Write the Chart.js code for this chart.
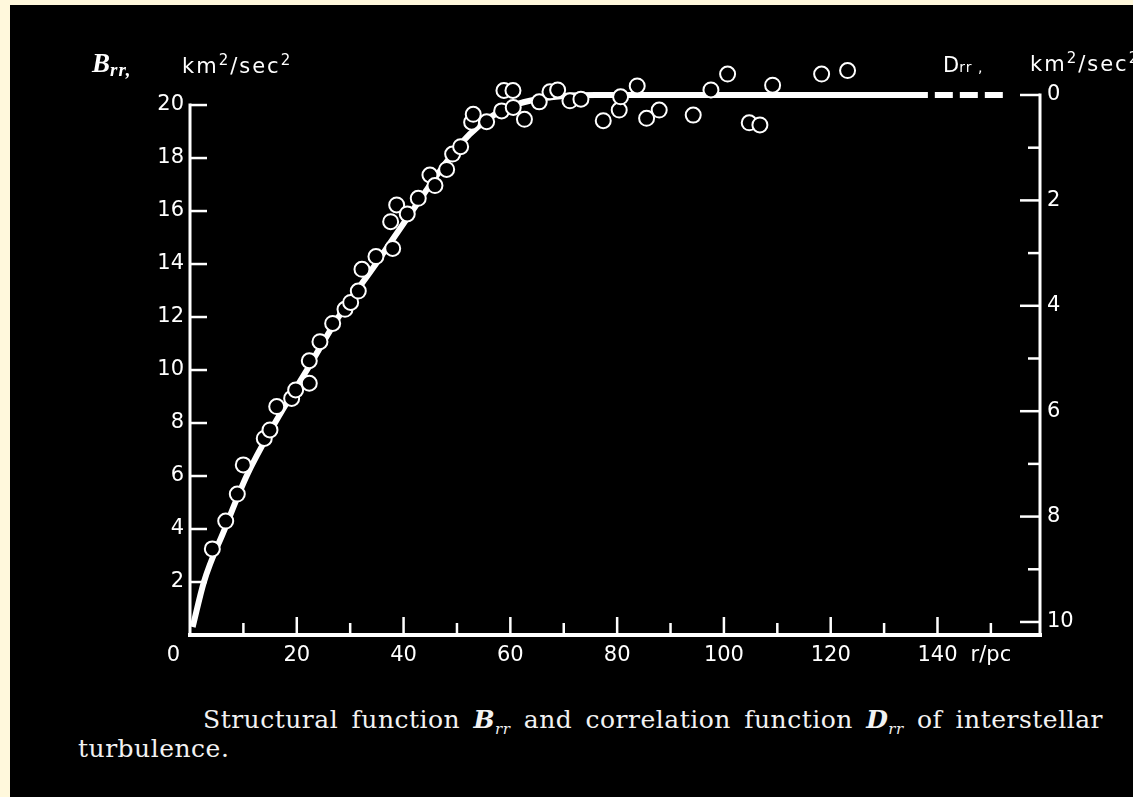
<!DOCTYPE html>
<html>
<head>
<meta charset="utf-8">
<script src="https://cdn.jsdelivr.net/npm/chart.js@4.4.1/dist/chart.umd.min.js"></script>
<style>
  html, body { margin: 0; padding: 0; width: 1133px; height: 797px; overflow: hidden; background: #fff8dc; }
  #panel { position: absolute; left: 10px; top: 5px; width: 1123px; height: 792px; background: #000; overflow: hidden; }
  #plot { position: absolute; left: 0; top: 0; }
  .lbl { position: absolute; color: #fff; white-space: nowrap; line-height: 1; }
  .sans { font-family: "DejaVu Sans", sans-serif; font-size: 21px; letter-spacing: 2px; }
  .sup { position: relative; top: -8px; font-size: 15px; }
  .serif { font-family: "DejaVu Serif", serif; font-size: 25px; letter-spacing: 0.5px; color: #f2f2f2; }
  #cap1 { width: 900px; text-align: justify; text-align-last: justify; }
</style>
</head>
<body>
<div id="panel">
  <canvas id="plot" width="1123" height="680"></canvas>

  <div class="lbl" style="left:82px; top:45px; font-family:'Liberation Serif',serif; font-size:27px; font-weight:bold; font-style:italic;">B<span style="position:relative; top:4px; font-size:19px; letter-spacing:1px;">rr,</span></div>
  <div class="lbl sans" style="left:172px; top:51px;">km<span class="sup">2</span>/sec<span class="sup">2</span></div>

  <div class="lbl sans" style="left:933px; top:50px; letter-spacing:0;">D<span style="font-size:14px; letter-spacing:1px;">rr ,</span></div>
  <div class="lbl sans" style="left:1020px; top:49px;">km<span class="sup">2</span>/sec<span class="sup">2</span></div>

  <div id="cap1" class="lbl serif" style="left:193px; top:702px;">Structural function <i><b>B</b><sub style="font-size:15px;">rr</sub></i> and correlation function <i><b>D</b><sub style="font-size:15px;">rr</sub></i> of interstellar</div>
  <div class="lbl serif" style="left:68px; top:731px;">turbulence.</div>
</div>

<script>
// Measured structural function B_rr (km^2/sec^2) against separation r (pc)
const rPc = [4.18, 6.69, 8.86, 9.98, 13.91, 14.98, 16.24, 19.04, 19.79, 22.34,
             22.34, 24.34, 26.72, 29.03, 30.09, 31.52, 32.21, 34.83, 37.96, 37.58,
             38.71, 40.69, 42.75, 44.94, 45.88, 48.07, 49.19, 50.69, 52.75, 53.05,
             55.56, 58.37, 58.8, 60.49, 60.54, 62.64, 65.41, 67.42, 68.86, 71.16,
             73.22, 77.4, 80.39, 80.65, 83.76, 85.52, 87.88, 94.25, 97.57, 100.69,
             104.74, 106.74, 109.12, 118.3, 123.16];
const bRr = [3.25, 4.30, 5.32, 6.42, 7.42, 7.74, 8.62, 8.93, 9.25, 9.50,
             10.35, 11.07, 11.76, 12.29, 12.55, 12.98, 13.80, 14.28, 14.59, 15.60,
             16.23, 15.89, 16.48, 17.36, 16.96, 17.57, 18.15, 18.43, 19.35, 19.65,
             19.37, 19.78, 20.55, 20.55, 19.91, 19.46, 20.12, 20.50, 20.57, 20.16,
             20.22, 19.41, 19.81, 20.31, 20.72, 19.50, 19.81, 19.62, 20.57, 21.17,
             19.33, 19.25, 20.75, 21.17, 21.30];

// Fitted curve (solid part) and its dashed continuation
const curveR = [0.5, 2.6, 6.5, 10.6, 15.9, 21.9, 27.8, 34.8, 41.6, 48.6, 52.4, 56.3, 60.5, 65, 70, 76, 138.2];
const curveB = [0.3, 2.0, 4.0, 6.0, 8.0, 10.0, 12.0, 14.0, 16.0, 18.0, 18.9, 19.55, 19.98, 20.22, 20.34, 20.38, 20.38];
const dashR = [139.5, 152.4];
const dashB = [20.38, 20.38];

// Axis ticks
const xTicks = [0, 10, 20, 30, 40, 50, 60, 70, 80, 90, 100, 110, 120, 130, 140, 150];
const xTickLabels = ['0     ', '', '20', '', '40', '', '60', '', '80', '', '100', '', '120', '', '140', 'r/pc'];
const bTicks = [2, 4, 6, 8, 10, 12, 14, 16, 18, 20];
const dTicks = [0, 1, 2, 3, 4, 5, 6, 7, 8, 9, 10];
const dTickLabels = ['0', '', '2', '', '4', '', '6', '', '8', '', '10'];

const pairs = (xs, ys) => xs.map((v, i) => ({ x: v, y: ys[i] }));
const tickFont = { family: '"DejaVu Sans", sans-serif', size: 21 };

// Axis lines and inward tick marks
const axisFrame = {
  id: 'axisFrame',
  beforeDatasetsDraw(chart) {
    const { ctx, chartArea: a, scales } = chart;
    const x = scales.x, yl = scales.y, yr = scales.y2;
    const base = yl.getPixelForValue(0);
    const seg = (w, x1, y1, x2, y2) => {
      ctx.lineWidth = w;
      ctx.beginPath(); ctx.moveTo(x1, y1); ctx.lineTo(x2, y2); ctx.stroke();
    };
    ctx.save();
    ctx.strokeStyle = '#ffffff';
    ctx.lineCap = 'square';
    seg(4, a.left, base, a.right, base);
    seg(3, a.left, yl.getPixelForValue(bTicks[bTicks.length - 1]), a.left, base);
    seg(3, a.right, yr.getPixelForValue(dTicks[0]), a.right, base);
    ctx.lineCap = 'butt';
    x.ticks.forEach(t => {
      if (t.value === 0) return;
      const p = x.getPixelForValue(t.value);
      seg(2.5, p, base, p, base - (t.value % 20 === 0 ? 18 : 12));
    });
    yl.ticks.forEach(t => {
      const p = yl.getPixelForValue(t.value);
      seg(2.5, a.left, p, a.left + 17, p);
    });
    yr.ticks.forEach(t => {
      const p = yr.getPixelForValue(t.value);
      seg(2.5, a.right, p, a.right - (t.value % 2 === 0 ? 20 : 12), p);
    });
    ctx.restore();
  }
};

new Chart(document.getElementById('plot'), {
  type: 'scatter',
  data: {
    datasets: [
      {
        data: pairs(rPc, bRr),
        pointRadius: 7.5,
        pointBorderWidth: 2,
        pointBorderColor: '#ffffff',
        pointBackgroundColor: '#000000',
        clip: false,
        order: 0
      },
      {
        type: 'line',
        data: pairs(curveR, curveB),
        borderColor: '#ffffff',
        borderWidth: 6,
        cubicInterpolationMode: 'monotone',
        pointRadius: 0,
        fill: false,
        clip: false,
        order: 1
      },
      {
        type: 'line',
        data: pairs(dashR, dashB),
        borderColor: '#ffffff',
        borderWidth: 6,
        borderDash: [18, 7],
        borderCapStyle: 'butt',
        pointRadius: 0,
        fill: false,
        clip: false,
        order: 1
      }
    ]
  },
  options: {
    responsive: false,
    animation: false,
    devicePixelRatio: 1,
    layout: { padding: { top: 55, left: 0, right: 0, bottom: 0 } },
    plugins: { legend: { display: false }, tooltip: { enabled: false } },
    scales: {
      x: {
        type: 'linear', position: 'bottom', min: 0, max: 159.2,
        afterBuildTicks: s => { s.ticks = xTicks.map(v => ({ value: v })); },
        afterFit: s => { s.height = 50; },
        grid: { display: false, drawTicks: false },
        border: { display: false },
        ticks: {
          color: '#ffffff', font: tickFont, padding: 8, maxRotation: 0, autoSkip: false,
          callback: (v, i) => xTickLabels[i]
        }
      },
      y: {
        type: 'linear', position: 'left', min: 0, max: 21.70,
        afterBuildTicks: s => { s.ticks = bTicks.map(v => ({ value: v })); },
        afterFit: s => { s.width = 180; },
        grid: { display: false, drawTicks: false },
        border: { display: false },
        ticks: { color: '#ffffff', font: tickFont, padding: 6, callback: v => String(v) }
      },
      y2: {
        type: 'linear', position: 'right', reverse: true, min: -0.664, max: 10.247,
        afterBuildTicks: s => { s.ticks = dTicks.map(v => ({ value: v })); },
        afterFit: s => { s.width = 93; },
        grid: { display: false, drawTicks: false },
        border: { display: false },
        ticks: { color: '#ffffff', font: tickFont, padding: 7, autoSkip: false, callback: (v, i) => dTickLabels[i] }
      }
    }
  },
  plugins: [axisFrame]
});
</script>
</body>
</html>
